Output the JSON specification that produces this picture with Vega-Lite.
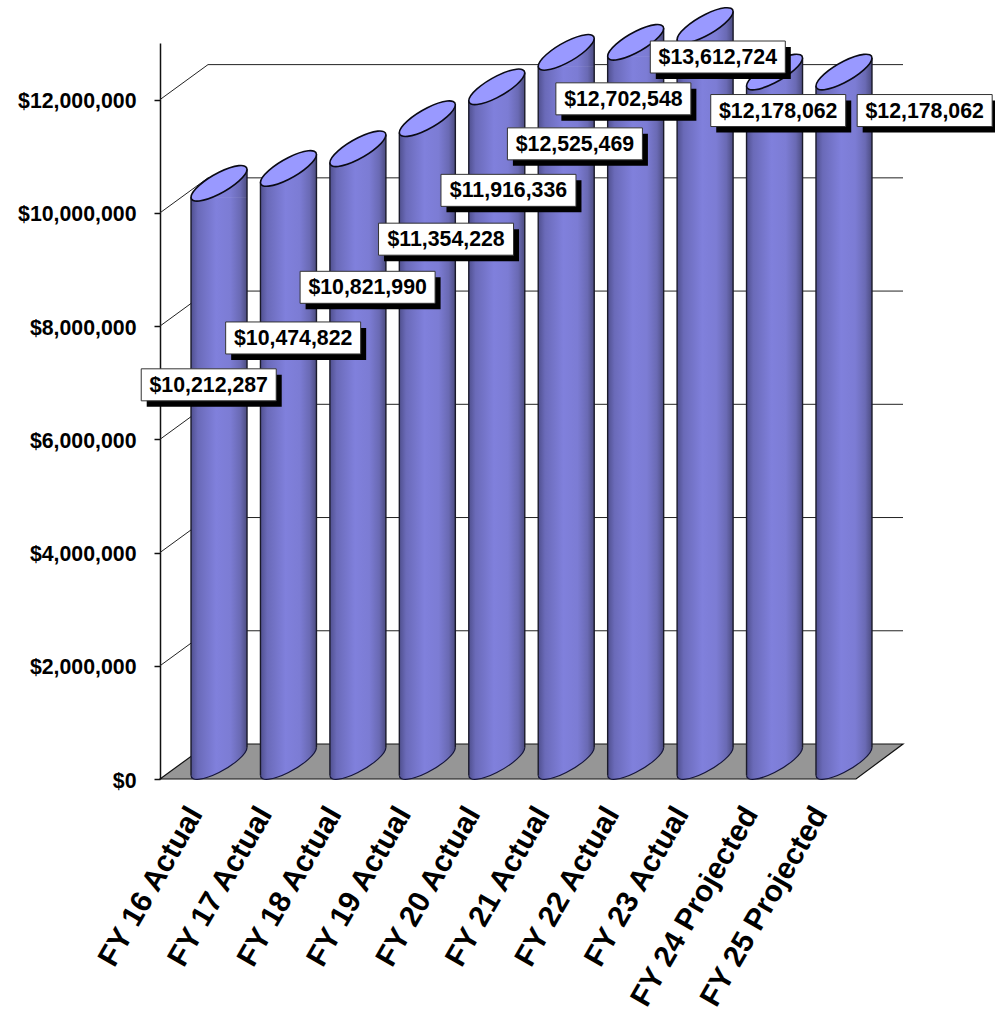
{
  "$schema": "https://vega.github.io/schema/vega-lite/v6.json",
  "width": 743,
  "height": 736,
  "autosize": {"type": "none"},
  "padding": {"left": 160, "top": 43, "right": 92, "bottom": 231},
  "background": "white",
  "config": {"view": {"stroke": null}, "font": "Liberation Sans"},
  "params": [
    {"name": "calloutShift", "value": {
      "FY 16 Actual": [14, 184],
      "FY 17 Actual": [29, 152],
      "FY 18 Actual": [34, 121],
      "FY 19 Actual": [43, 103],
      "FY 20 Actual": [36, 86],
      "FY 21 Actual": [33, 74],
      "FY 22 Actual": [12, 39],
      "FY 23 Actual": [37, 14],
      "FY 24 Projected": [28, 21],
      "FY 25 Projected": [105, 21]
    }}
  ],
  "data": {"values": [
    {"fy": "FY 16 Actual", "budget": 10212287},
    {"fy": "FY 17 Actual", "budget": 10474822},
    {"fy": "FY 18 Actual", "budget": 10821990},
    {"fy": "FY 19 Actual", "budget": 11354228},
    {"fy": "FY 20 Actual", "budget": 11916336},
    {"fy": "FY 21 Actual", "budget": 12525469},
    {"fy": "FY 22 Actual", "budget": 12702548},
    {"fy": "FY 23 Actual", "budget": 13612724},
    {"fy": "FY 24 Projected", "budget": 12178062},
    {"fy": "FY 25 Projected", "budget": 12178062}
  ]},
  "encoding": {
    "x": {
      "field": "fy",
      "type": "nominal",
      "sort": null,
      "title": null,
      "scale": {
        "type": "band",
        "domain": ["FY 16 Actual", "FY 17 Actual", "FY 18 Actual", "FY 19 Actual", "FY 20 Actual", "FY 21 Actual", "FY 22 Actual", "FY 23 Actual", "FY 24 Projected", "FY 25 Projected"],
        "range": [0, 694.4],
        "paddingInner": 0,
        "paddingOuter": 0
      },
      "axis": {
        "domain": false,
        "ticks": false,
        "labelAngle": -60,
        "labelAlign": "right",
        "labelBaseline": "middle",
        "labelFont": "Liberation Sans",
        "labelFontWeight": "bold",
        "labelFontSize": 30,
        "labelColor": "black",
        "labelPadding": 30,
        "labelOffset": 1,
        "labelOverlap": false,
        "labelLimit": 400,
        "labelBound": false,
        "labelFlush": false
      }
    },
    "y": {
      "field": "budget",
      "type": "quantitative",
      "title": null,
      "scale": {"domain": [0, 13000000], "nice": false, "zero": true, "clamp": true},
      "axis": {
        "values": [0, 2000000, 4000000, 6000000, 8000000, 10000000, 12000000],
        "format": "$,.0f",
        "grid": false,
        "domainColor": "#111",
        "domainWidth": 1.5,
        "tickColor": "#111",
        "tickWidth": 1.5,
        "tickSize": 6,
        "labelFont": "Liberation Sans",
        "labelFontWeight": "bold",
        "labelFontSize": 21.3,
        "labelColor": "black",
        "labelPadding": 18,
        "labelOffset": 2,
        "labelOverlap": false
      }
    }
  },
  "layer": [
    {
      "description": "Side and back wall gridlines",
      "data": {"values": [{"level": 2000000}, {"level": 4000000}, {"level": 6000000}, {"level": 8000000}, {"level": 10000000}, {"level": 12000000}]},
      "mark": {"type": "point", "shape": "M-34.72,0L13.28,-35H708.28", "size": 4, "filled": false, "opacity": 1, "stroke": "#222", "strokeWidth": 1},
      "encoding": {"x": {"datum": "FY 16 Actual"}, "y": {"field": "level", "type": "quantitative"}}
    },
    {
      "description": "Chart floor",
      "data": {"values": [{"level": 0}]},
      "mark": {"type": "point", "shape": "M-34.72,0L13.28,-35H708.28L661.28,0Z", "size": 4, "filled": true, "opacity": 1, "fill": "#969696", "stroke": "#111", "strokeWidth": 1.2},
      "encoding": {"x": {"datum": "FY 16 Actual"}, "y": {"field": "level", "type": "quantitative"}}
    },
    {
      "description": "Cylinder body",
      "mark": {
        "type": "bar", "width": 56, "xOffset": 24.3, "yOffset": -3.5, "y2Offset": -31,
        "fill": {"gradient": "linear", "x1": 0, "x2": 1, "y1": 0, "y2": 0, "stops": [
          {"offset": 0, "color": "#50508f"}, {"offset": 0.12, "color": "#6a6ab8"}, {"offset": 0.45, "color": "#8080dc"},
          {"offset": 0.7, "color": "#7c7cd4"}, {"offset": 0.88, "color": "#6a6ab4"}, {"offset": 1, "color": "#4c4c80"}]}
      },
      "encoding": {"y2": {"datum": 0}}
    },
    {
      "description": "Shoulder of the cylinder under its slanted top",
      "mark": {
        "type": "point", "shape": "M28,-31.5L28,-3L-28,-3L-28,-3.5Z", "size": 4, "filled": true, "opacity": 1, "xOffset": 24.3,
        "fill": {"gradient": "linear", "x1": 0, "x2": 1, "y1": 0, "y2": 0, "stops": [
          {"offset": 0, "color": "#50508f"}, {"offset": 0.12, "color": "#6a6ab8"}, {"offset": 0.45, "color": "#8080dc"},
          {"offset": 0.7, "color": "#7c7cd4"}, {"offset": 0.88, "color": "#6a6ab4"}, {"offset": 1, "color": "#4c4c80"}]}
      }
    },
    {
      "description": "Curved foot of the cylinder",
      "mark": {
        "type": "point", "shape": "M28,-32V-31.5C28,-25.42,15.46,-14.23,0,-6.5C-15.46,1.23,-28,2.58,-28,-3.5V-32Z", "size": 4, "filled": true, "opacity": 1, "xOffset": 24.3,
        "fill": {"gradient": "linear", "x1": 0, "x2": 1, "y1": 0, "y2": 0, "stops": [
          {"offset": 0, "color": "#50508f"}, {"offset": 0.12, "color": "#6a6ab8"}, {"offset": 0.45, "color": "#8080dc"},
          {"offset": 0.7, "color": "#7c7cd4"}, {"offset": 0.88, "color": "#6a6ab4"}, {"offset": 1, "color": "#4c4c80"}]}
      },
      "encoding": {"y": {"datum": 0}}
    },
    {
      "description": "Foot outline",
      "mark": {"type": "point", "shape": "M28,-31.5C28,-25.42,15.46,-14.23,0,-6.5C-15.46,1.23,-28,2.58,-28,-3.5", "size": 4, "filled": false, "opacity": 1, "xOffset": 24.3, "stroke": "#15153a", "strokeWidth": 1.2},
      "encoding": {"y": {"datum": 0}}
    },
    {
      "description": "Left edge",
      "mark": {"type": "rule", "xOffset": -3.7, "yOffset": -3.5, "y2Offset": -3.5, "stroke": "#1a1a2a", "strokeWidth": 1.4},
      "encoding": {"y2": {"datum": 0}}
    },
    {
      "description": "Right edge",
      "mark": {"type": "rule", "xOffset": 52.3, "yOffset": -31.5, "y2Offset": -31.5, "stroke": "#1a1a2a", "strokeWidth": 1.4},
      "encoding": {"y2": {"datum": 0}}
    },
    {
      "description": "Slanted top",
      "mark": {
        "type": "point",
        "shape": "M28,-31.5C28,-25.42,15.46,-14.23,0,-6.5C-15.46,1.23,-28,2.58,-28,-3.5C-28,-9.58,-15.46,-20.77,0,-28.5C15.46,-36.23,28,-37.58,28,-31.5Z",
        "size": 4, "filled": true, "opacity": 1, "xOffset": 24.3, "fill": "#9999ff", "stroke": "#0a0a14", "strokeWidth": 1.6
      }
    },
    {
      "description": "Callout drop shadow",
      "mark": {
        "type": "point", "shape": "M-62,-10H73V22H-62Z", "size": 4, "filled": true, "opacity": 1, "fill": "black",
        "xOffset": {"expr": "calloutShift[datum.fy][0]"}, "yOffset": {"expr": "calloutShift[datum.fy][1]"}
      }
    },
    {
      "description": "Callout box",
      "mark": {
        "type": "point", "shape": "M-67.5,-16H67.5V16H-67.5Z", "size": 4, "filled": true, "opacity": 1, "fill": "white", "stroke": "#333", "strokeWidth": 1,
        "xOffset": {"expr": "calloutShift[datum.fy][0]"}, "yOffset": {"expr": "calloutShift[datum.fy][1]"}
      }
    },
    {
      "description": "Callout value",
      "mark": {
        "type": "text", "font": "Liberation Sans", "fontWeight": "bold", "fontSize": 21.3, "color": "black", "align": "center", "baseline": "middle",
        "xOffset": {"expr": "calloutShift[datum.fy][0]"}, "yOffset": {"expr": "calloutShift[datum.fy][1] + 1"}
      },
      "encoding": {"text": {"field": "budget", "type": "quantitative", "format": "$,.0f"}}
    }
  ]
}
